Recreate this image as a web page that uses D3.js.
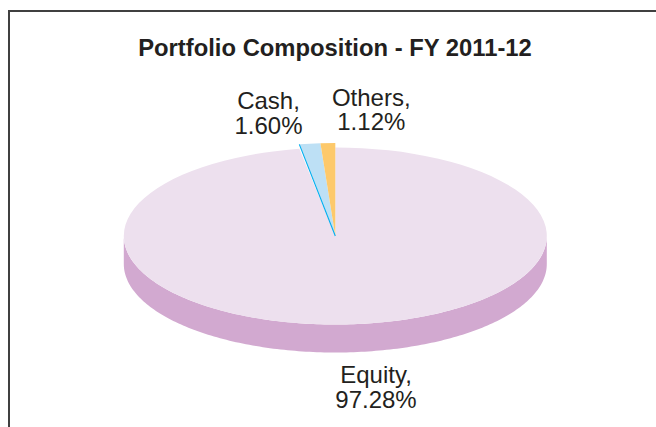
<!DOCTYPE html>
<html><head><meta charset="utf-8">
<script src="https://cdn.jsdelivr.net/npm/d3@7/dist/d3.min.js"></script>
<style>html,body{margin:0;padding:0;background:#fff}svg{display:block}text{font-family:"Liberation Sans",Arial,sans-serif;fill:#231f20}</style>
</head><body><svg id="c" width="656" height="427"></svg>
<script>
const categories=["Equity","Cash","Others"];
const values=[97.28,1.60,1.12];
const labels=["97.28%","1.60%","1.12%"];
const colors=["#ede0ee","#bde0f5","#fdc96b"];
const wallColor="#d2a9d0", edgeColor="#00aeef";
const title="Portfolio Composition - FY 2011-12";

const svg=d3.select("#c");
const cx=335.3, cy=236, rx=211.5, ry=88.5, rySlice=93, depth=28;
const frame=d3.path();frame.moveTo(9,427);frame.lineTo(9,11);frame.lineTo(656,11);
svg.append("path").attr("d",frame.toString()).attr("fill","none").attr("stroke","#404040").attr("stroke-width",2);

svg.append("text").attr("x",335).attr("y",56).attr("text-anchor","middle").attr("font-weight","bold").attr("font-size",23.8).text(title);

const arcs=d3.pie().sort(null)(values);
const arc=d3.arc().innerRadius(0).outerRadius(rx);
const ang=d3.range(-90,90.5,1).map(d=>d*Math.PI/180);
const wall=d3.area().x(a=>cx+rx*Math.sin(a)).y0(a=>cy+ry*Math.cos(a)).y1(a=>cy+ry*Math.cos(a)+depth);
svg.append("path").attr("d",wall(ang)).attr("fill",wallColor);

svg.append("path").datum(arcs[0]).attr("d",arc)
  .attr("transform",`translate(${cx},${cy}) scale(1,${ry/rx})`).attr("fill",colors[0]);
svg.selectAll(".s").data(arcs.slice(1)).join("path").attr("class","s").attr("d",arc)
  .attr("transform",`translate(${cx},${cy}) scale(1,${rySlice/rx})`)
  .attr("fill",(d,i)=>colors[i+1]);
const a=arcs[1].startAngle;
svg.append("line").attr("x1",cx).attr("y1",cy)
  .attr("x2",cx+rx*Math.sin(a)).attr("y2",cy-rySlice*Math.cos(a))
  .attr("stroke",edgeColor).attr("stroke-width",1.1);

const labelPos=[[376,382.8,407.6],[268.5,108.8,133.8],[371.3,105.5,130.3]];
categories.forEach((c,i)=>{
  const g=svg.append("g").attr("text-anchor","middle").attr("font-size",24);
  g.append("text").attr("x",labelPos[i][0]).attr("y",labelPos[i][1]).text(c+",");
  g.append("text").attr("x",labelPos[i][0]).attr("y",labelPos[i][2]).text(labels[i]);
});
</script></body></html>
